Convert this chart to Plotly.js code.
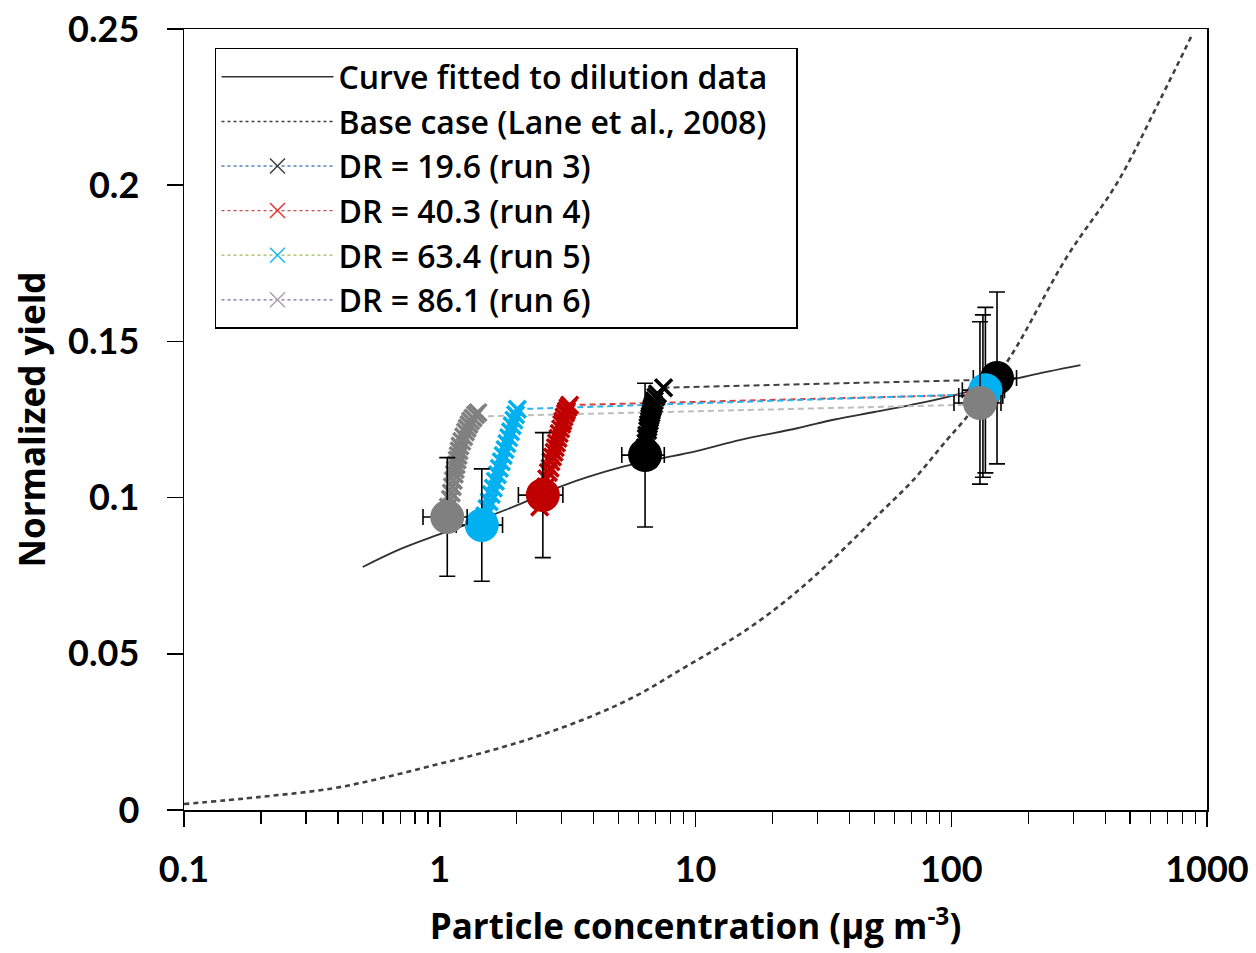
<!DOCTYPE html>
<html><head><meta charset="utf-8">
<script src="https://cdn.plot.ly/plotly-3.0.1.min.js"></script>
<style>body{margin:0;background:#fff}#chart{width:1256px;height:953px}</style>
</head><body><div id="chart"></div>
<script>
// Curve fitted to dilution data
const fitX = [0.5, 0.7, 1, 1.5, 2, 3, 5, 7, 10, 15, 25, 35, 50, 70, 100, 150, 200, 320];
const fitY = [0.0778, 0.0835, 0.0883, 0.0935, 0.0975, 0.1037, 0.1095, 0.1122, 0.1148, 0.1185, 0.1222, 0.1250, 0.1274, 0.1297, 0.1325, 0.1365, 0.1390, 0.1424];
// Base case (Lane et al., 2008)
const baseX = [0.1, 0.2, 0.38, 0.6, 0.955, 1.5, 2.39, 4, 6, 8.7, 12, 15.9, 21.4, 28.9, 39, 52.6, 71, 96, 115, 170, 283, 445, 655, 881];
const baseY = [0.0019, 0.0042, 0.0069, 0.0103, 0.0144, 0.0185, 0.0235, 0.0303, 0.0370, 0.0448, 0.0515, 0.0578, 0.0655, 0.0745, 0.0845, 0.0950, 0.1056, 0.1184, 0.1258, 0.1450, 0.1770, 0.2007, 0.2273, 0.2487];

// Dilution streaks (x markers)
const run3X = [6.30, 6.35, 6.40, 6.42, 6.45, 6.50, 6.52, 6.55, 6.60, 6.62, 6.65, 6.70, 6.72, 6.75, 6.80, 6.85, 6.90, 7.00, 7.10, 7.50];
const run3Y = [0.1145, 0.1160, 0.1175, 0.1190, 0.1200, 0.1215, 0.1225, 0.1235, 0.1245, 0.1255, 0.1262, 0.1270, 0.1278, 0.1285, 0.1292, 0.1300, 0.1310, 0.1322, 0.1332, 0.1352];
const run4X = [2.46, 2.55, 2.60, 2.62, 2.66, 2.70, 2.72, 2.76, 2.80, 2.83, 2.86, 2.90, 2.93, 2.97, 3.00, 3.03, 3.06, 3.10, 3.13, 3.17, 3.22];
const run4Y = [0.0970, 0.1010, 0.1035, 0.1060, 0.1080, 0.1095, 0.1115, 0.1130, 0.1145, 0.1160, 0.1175, 0.1190, 0.1205, 0.1220, 0.1235, 0.1245, 0.1258, 0.1270, 0.1278, 0.1288, 0.1296];
const run5X = [1.50, 1.53, 1.56, 1.59, 1.62, 1.65, 1.68, 1.71, 1.74, 1.77, 1.80, 1.83, 1.86, 1.89, 1.92, 1.95, 1.98, 2.01];
const run5Y = [0.0942, 0.0965, 0.0987, 0.1010, 0.1031, 0.1052, 0.1073, 0.1094, 0.1115, 0.1135, 0.1154, 0.1173, 0.1192, 0.1211, 0.1230, 0.1248, 0.1265, 0.1283];
const run6X = [1.08, 1.10, 1.11, 1.12, 1.13, 1.14, 1.15, 1.16, 1.17, 1.18, 1.19, 1.20, 1.22, 1.24, 1.26, 1.28, 1.30, 1.32, 1.35, 1.38, 1.41];
const run6Y = [0.0970, 0.0995, 0.1015, 0.1035, 0.1055, 0.1075, 0.1090, 0.1105, 0.1120, 0.1135, 0.1150, 0.1165, 0.1180, 0.1195, 0.1210, 0.1222, 0.1234, 0.1245, 0.1255, 0.1265, 0.1272];

// Big circles: [low (end of dilution), high (before dilution)]
const run3CircX = [6.35, 151];   const run3CircY = [0.1136, 0.1383];
const run3ErrX = [1.2, 29];      const run3ErrY = [0.023, 0.0275];
const run4CircX = [2.53, 133];   const run4CircY = [0.1008, 0.1325];
const run4ErrX = [0.5, 26];      const run4ErrY = [0.020, 0.026];
const run5CircX = [1.46, 136];   const run5CircY = [0.0912, 0.1344];
const run5ErrX = [0.30, 25.5];   const run5ErrY = [0.018, 0.0265];
const run6CircX = [1.07, 129.5]; const run6CircY = [0.0938, 0.1303];
const run6ErrX = [0.21, 27];     const run6ErrY = [0.019, 0.026];

// Connectors (top of streak -> high circle)
const run3ConX = [7.50, 151];  const run3ConY = [0.1352, 0.1378];
const run4ConX = [3.22, 133];  const run4ConY = [0.1296, 0.1330];
const run5ConX = [2.01, 136];  const run5ConY = [0.1283, 0.1332];
const run6ConX = [1.41, 129.5]; const run6ConY = [0.1260, 0.1298];

const legendNames = ['Curve fitted to dilution data', 'Base case (Lane et al., 2008)',
  'DR = 19.6 (run 3)', 'DR = 40.3 (run 4)', 'DR = 63.4 (run 5)', 'DR = 86.1 (run 6)'];
const majorTicks = [0.1, 1, 10, 100, 1000];
const majorText = ['0.1', '1', '10', '100', '1000'];
const yTicks = [0, 0.05, 0.1, 0.15, 0.2, 0.25];
const yText = ['0', '0.05', '0.1', '0.15', '0.2', '0.25'];

const minorTicks = [];
[0.1, 1, 10, 100].forEach(d => { for (let k = 2; k <= 9; k++) minorTicks.push(d * k); });

const runs = [
  {sx: run3X, sy: run3Y, cx: run3CircX, cy: run3CircY, ex: run3ErrX, ey: run3ErrY, lx: run3ConX, ly: run3ConY, col: '#000000', con: '#404040', leg: '#4f81bd', legM: '#404040'},
  {sx: run4X, sy: run4Y, cx: run4CircX, cy: run4CircY, ex: run4ErrX, ey: run4ErrY, lx: run4ConX, ly: run4ConY, col: '#c00000', con: '#e03a3a', leg: '#c0504d', legM: '#e03a3a'},
  {sx: run5X, sy: run5Y, cx: run5CircX, cy: run5CircY, ex: run5ErrX, ey: run5ErrY, lx: run5ConX, ly: run5ConY, col: '#00b0f0', con: '#29b6f0', leg: '#9bbb59', legM: '#1fb8f0'},
  {sx: run6X, sy: run6Y, cx: run6CircX, cy: run6CircY, ex: run6ErrX, ey: run6ErrY, lx: run6ConX, ly: run6ConY, col: '#808080', con: '#bdbdbd', leg: '#8064a2', legM: '#a6a6a6'}
];

const traces = [];
traces.push({x: baseX, y: baseY, mode: 'lines', name: legendNames[1], showlegend: false,
  line: {color: '#404040', width: 2.6, dash: '5px,4px', shape: 'spline', smoothing: 1}, hoverinfo: 'skip'});
traces.push({x: fitX, y: fitY, mode: 'lines', name: legendNames[0], showlegend: false,
  line: {color: '#303030', width: 1.8, shape: 'spline', smoothing: 1}, hoverinfo: 'skip'});
runs.forEach(r => {
  traces.push({x: r.lx, y: r.ly, mode: 'lines', showlegend: false,
    line: {color: r.con, width: 2, dash: '6px,4px'}});
});
runs.forEach(r => {
  traces.push({x: r.sx, y: r.sy, mode: 'markers', showlegend: false,
    marker: {symbol: 'x-thin', size: 17, color: r.col, line: {color: r.col, width: 3.5}}});
  traces.push({x: r.cx, y: r.cy, mode: 'markers', showlegend: false,
    marker: {symbol: 'circle', size: 34, color: r.col},
    error_y: {type: 'data', array: r.ey, visible: true, color: '#000', thickness: 1.6, width: 8},
    error_x: {type: 'data', array: r.ex, visible: true, color: '#000', thickness: 1.6, width: 8}});
});
// legend entries
const pad = '\u00a0\u00a0\u00a0';
traces.push({x: [null], y: [null], mode: 'lines', name: legendNames[0], legendgroup: 'a',
  line: {color: '#303030', width: 1.5}});
traces.push({x: [null], y: [null], mode: 'lines', name: legendNames[1] + pad, legendgroup: 'b',
  line: {color: '#404040', width: 1.5, dash: '3px,3px'}});
runs.forEach((r, i) => {
  traces.push({x: [null], y: [null], mode: 'lines+markers', name: legendNames[i + 2], legendgroup: 'g' + i,
    line: {color: r.leg, width: 1.3, dash: '3px,3px'},
    marker: {symbol: 'x-thin', size: 15, color: r.legM, line: {color: r.legM, width: 1.5}}});
});

const layout = {
  width: 1256, height: 953,
  margin: {l: 184, r: 49, t: 29, b: 143},
  paper_bgcolor: '#fff', plot_bgcolor: '#fff',
  font: {family: 'Lato, sans-serif', color: '#000'},
  xaxis: {
    type: 'log', range: [-1, 3], tickmode: 'array', tickvals: majorTicks, ticktext: majorText,
    ticks: 'outside', ticklen: 15, tickwidth: 1.5, tickcolor: '#000',
    minor: {tickmode: 'array', tickvals: minorTicks, ticks: 'outside', ticklen: 12, tickwidth: 1.2, tickcolor: '#000', showgrid: false},
    showline: true, linecolor: '#000', linewidth: 1.5, mirror: true, showgrid: false, zeroline: false,
    tickfont: {size: 36, family: 'Lato, sans-serif', weight: 'bold'},
    ticklabelstandoff: 12,
    title: {text: 'Particle concentration (µg m<sup>-3</sup>)', font: {size: 35, family: 'Open Sans, sans-serif', weight: 'bold'}, standoff: 26}
  },
  yaxis: {
    range: [0, 0.25], tickmode: 'array', tickvals: yTicks, ticktext: yText,
    ticks: 'outside', ticklen: 16, tickwidth: 1.5, tickcolor: '#000',
    showline: true, linecolor: '#000', linewidth: 1.5, mirror: true, showgrid: false, zeroline: false,
    tickfont: {size: 36, family: 'Lato, sans-serif', weight: 'bold'},
    ticklabelstandoff: 20,
    title: {text: 'Normalized yield', font: {size: 35, family: 'Open Sans, sans-serif', weight: 'bold'}, standoff: 12}
  },
  showlegend: true,
  legend: {x: 0.0303, y: 0.9757, xanchor: 'left', yanchor: 'top', bgcolor: '#fff',
    bordercolor: '#000', borderwidth: 1.5, font: {size: 32, family: 'Open Sans, sans-serif', weight: 600},
    itemwidth: 112, traceorder: 'grouped', tracegroupgap: 0, itemclick: false}
};
Plotly.newPlot('chart', traces, layout, {staticPlot: true});
</script></body></html>
